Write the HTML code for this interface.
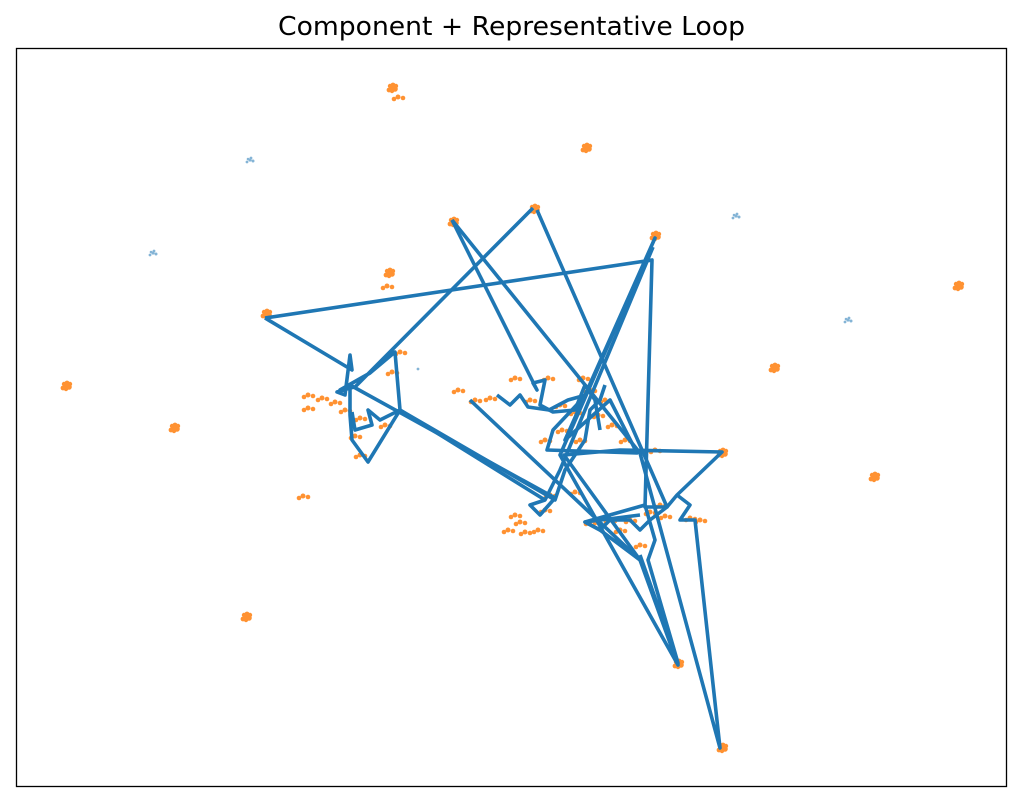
<!DOCTYPE html>
<html><head><meta charset="utf-8"><style>
html,body{margin:0;padding:0;background:#fff;width:1023px;height:804px;overflow:hidden}
</style></head><body>
<svg width="1023" height="804" viewBox="0 0 1023 804" xmlns="http://www.w3.org/2000/svg">
<rect width="1023" height="804" fill="#fff"/>
<text x="278" y="35" textLength="467" lengthAdjust="spacingAndGlyphs" font-family="DejaVu Sans, sans-serif" font-size="26" fill="#000">Component + Representative Loop</text>
<defs>
<g id="c"><circle cx="0" cy="0" r="2.8"/><circle cx="3" cy="1" r="2.8"/><circle cx="-3" cy="2" r="2.4"/><circle cx="1" cy="-3" r="2.4"/><circle cx="4" cy="-2" r="2.2"/><circle cx="-2" cy="-2" r="2.2"/><circle cx="0" cy="3" r="2.2"/></g>
<g id="s"><circle cx="0" cy="0" r="2.5"/><circle cx="5" cy="1" r="2.3"/><circle cx="-4" cy="2" r="2.3"/></g>
<g id="b"><circle cx="0" cy="0" r="1.6"/><circle cx="3" cy="1" r="1.5"/><circle cx="-3" cy="2" r="1.4"/><circle cx="1" cy="-2" r="1.4"/><circle cx="-2" cy="-1" r="1.3"/></g>
</defs>
<g fill="#ff7f0e" opacity="0.85">
<use href="#c" x="392" y="88"/><use href="#s" x="398" y="97"/><use href="#c" x="586" y="148"/><use href="#c" x="534" y="209"/><use href="#c" x="453" y="222"/><use href="#c" x="655" y="236"/><use href="#c" x="389" y="273"/><use href="#s" x="387" y="286"/><use href="#c" x="266" y="314"/><use href="#c" x="958" y="286"/><use href="#c" x="66" y="386"/><use href="#c" x="174" y="428"/><use href="#c" x="774" y="368"/><use href="#c" x="874" y="477"/><use href="#c" x="722" y="453"/><use href="#c" x="246" y="617"/><use href="#c" x="678" y="664"/><use href="#c" x="722" y="748"/>
<use href="#s" x="308" y="395"/><use href="#s" x="322" y="398"/><use href="#s" x="308" y="408"/><use href="#s" x="335" y="402"/><use href="#s" x="345" y="410"/><use href="#s" x="400" y="352"/><use href="#s" x="392" y="372"/><use href="#s" x="360" y="418"/><use href="#s" x="355" y="436"/><use href="#s" x="385" y="425"/><use href="#s" x="360" y="455"/>
<use href="#s" x="458" y="390"/><use href="#s" x="475" y="400"/><use href="#s" x="490" y="398"/><use href="#s" x="515" y="378"/><use href="#s" x="530" y="400"/><use href="#s" x="548" y="378"/><use href="#s" x="560" y="405"/><use href="#s" x="575" y="412"/><use href="#s" x="583" y="378"/><use href="#s" x="590" y="390"/><use href="#s" x="605" y="400"/><use href="#s" x="612" y="425"/><use href="#s" x="625" y="440"/><use href="#s" x="545" y="440"/><use href="#s" x="562" y="430"/><use href="#s" x="580" y="440"/><use href="#s" x="598" y="415"/>
<use href="#s" x="515" y="515"/><use href="#s" x="508" y="530"/><use href="#s" x="525" y="532"/><use href="#s" x="520" y="522"/><use href="#s" x="545" y="510"/><use href="#s" x="575" y="492"/><use href="#s" x="550" y="495"/><use href="#s" x="538" y="530"/>
<use href="#s" x="590" y="522"/><use href="#s" x="610" y="520"/><use href="#s" x="630" y="520"/><use href="#s" x="650" y="512"/><use href="#s" x="665" y="516"/><use href="#s" x="690" y="518"/><use href="#s" x="640" y="545"/><use href="#s" x="660" y="505"/><use href="#s" x="700" y="520"/><use href="#s" x="620" y="530"/>
<use href="#s" x="303" y="496"/><use href="#s" x="655" y="450"/>
</g>
<g fill="#1f77b4" opacity="0.55">
<use href="#b" x="250" y="160"/><use href="#b" x="153" y="253"/><use href="#b" x="736" y="216"/><use href="#b" x="848" y="320"/><circle cx="418" cy="369" r="1.4"/>
</g>
<g fill="none" stroke="#1f77b4" stroke-width="3.6" stroke-linejoin="round">
<polyline points="265,318 652,260 645,507 667,507 677,495 722,452 620,450 564,455 640,560 678,665 560,455 655,238 565,440 610,400 637,453 547,450 553,430 586,395 568,400 549,410 528,407 520,395 510,405 497,395"/>
<polyline points="265,318 352,370 350,355 345,395 337,392 350,388 350,415 352,440 368,462 400,410 380,420 368,410 372,425 355,430 352,412"/>
<polyline points="452,220 537,390 533,383 545,380 540,405 553,412 575,410 585,385 595,400 600,430"/>
<polyline points="452,220 640,453 720,748 695,520 680,520 690,505 677,495"/>
<polyline points="533,208 355,387 340,390 370,373 395,352 400,410 555,500 565,470 585,440 590,410 600,400 605,385"/>
<polyline points="537,210 667,507 650,520 640,530 630,520 610,520 600,530 585,522 645,505 655,540 648,560 678,663 640,555"/>
<polyline points="653,247 560,470 545,500 530,505 540,515 555,498 350,385"/>
<polyline points="470,400 640,560 600,530 585,522 640,515"/>
<polyline points="400,410 545,500"/>
</g>
<rect x="16.5" y="48.5" width="990" height="738" fill="none" stroke="#000" stroke-width="1.3"/>
</svg>
</body></html>
